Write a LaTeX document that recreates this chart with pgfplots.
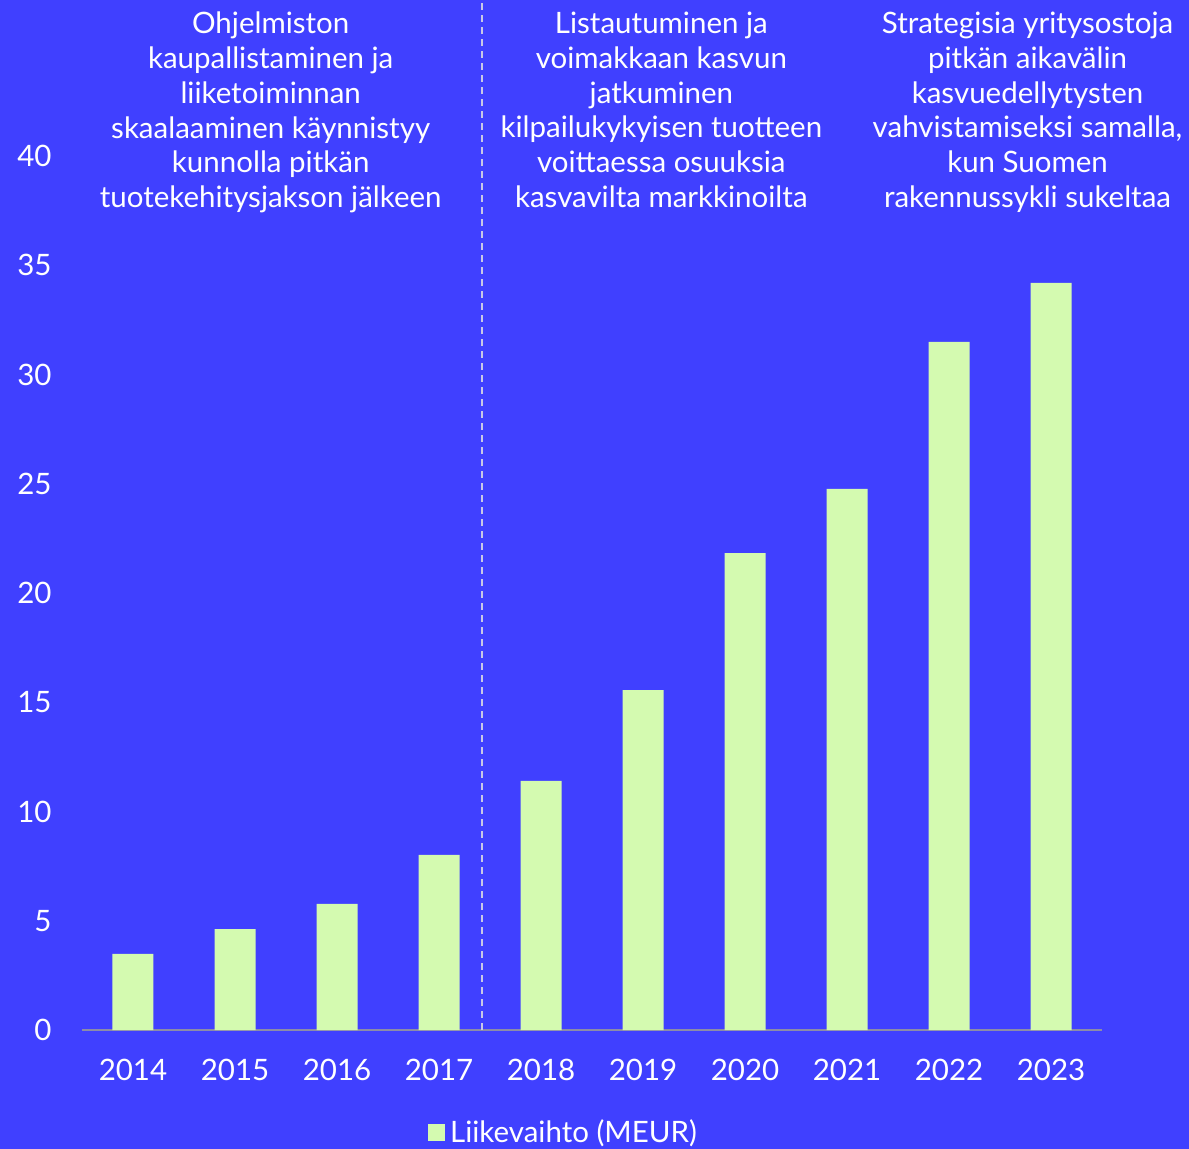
\documentclass[border=0pt]{standalone}
\usepackage{fontspec}
\setmainfont{Lato}
\usepackage{pgfplots}
\pgfplotsset{compat=1.18}
\usepackage{pgfplotstable}
\definecolor{bg}{HTML}{4040FF}
\definecolor{barc}{HTML}{D4FAB0}
\definecolor{axgrey}{HTML}{8C8CA8}
\definecolor{dashc}{HTML}{C8C8E6}
\pgfplotstableread{
x year value
0 2014 3.48
1 2015 4.62
2 2016 5.77
3 2017 8.01
4 2018 11.40
5 2019 15.56
6 2020 21.83
7 2021 24.76
8 2022 31.49
9 2023 34.19
}\data
\begin{document}
\begin{tikzpicture}
\path[fill=bg, use as bounding box] (-41bp,-59.5bp) rectangle (553.5bp,515bp);
\begin{axis}[
  at={(0,0)}, anchor=south west,
  scale only axis, width=510bp, height=437bp,
  xmin=-0.5, xmax=9.5, ymin=0, ymax=40,
  ybar, bar width=20.5bp,
  clip=false,
  axis x line*=bottom, axis y line*=left,
  y axis line style={draw=none},
  x axis line style={draw=axgrey, line width=1bp},
  major tick length=0pt,
  xtick={0,...,9},
  xticklabels={2014,2015,2016,2017,2018,2019,2020,2021,2022,2023},
  ytick={0,5,...,40},
  /pgf/number format/assume math mode=true,
  tick label style={font=\fontsize{14.8}{17.5}\selectfont, text=white},
  xticklabel style={anchor=north, inner sep=0pt, yshift=-14.5bp},
  yticklabel style={anchor=east, inner sep=0pt, xshift=-15bp},
  legend style={draw=none, fill=none, at={(0.339,-0.1178)}, anchor=west,
    font=\fontsize{14.8}{17.5}\selectfont, text=white, inner sep=0pt,
    nodes={inner sep=2.5bp}},
  legend image code/.code={\fill[barc] (0bp,-4.25bp) rectangle (8.5bp,4.25bp);},
]
\addplot[fill=barc, draw=none] table[x=x, y=value] {\data};
\addlegendentry{Liikevaihto (MEUR)}
\draw[dashc, line width=0.8bp, dash pattern=on 3.5bp off 2.5bp] (axis cs:3.42,0) -- (axis cs:3.42,47.2);
\begin{scope}[every node/.style={align=center, anchor=north, inner sep=0pt, text=white,
   font=\fontsize{14.8}{17.5}\selectfont}]
\node at (axis cs:1.35,46.62) {Ohjelmiston\\kaupallistaminen ja\\liiketoiminnan\\skaalaaminen käynnistyy\\kunnolla pitkän\\tuotekehitysjakson jälkeen};
\node at (axis cs:5.18,46.62) {Listautuminen ja\\voimakkaan kasvun\\jatkuminen\\kilpailukykyisen tuotteen\\voittaessa osuuksia\\kasvavilta markkinoilta};
\node at (axis cs:8.77,46.62) {Strategisia yritysostoja\\pitkän aikavälin\\kasvuedellytysten\\vahvistamiseksi samalla,\\kun Suomen\\rakennussykli sukeltaa};
\end{scope}
\end{axis}
\end{tikzpicture}
\end{document}
